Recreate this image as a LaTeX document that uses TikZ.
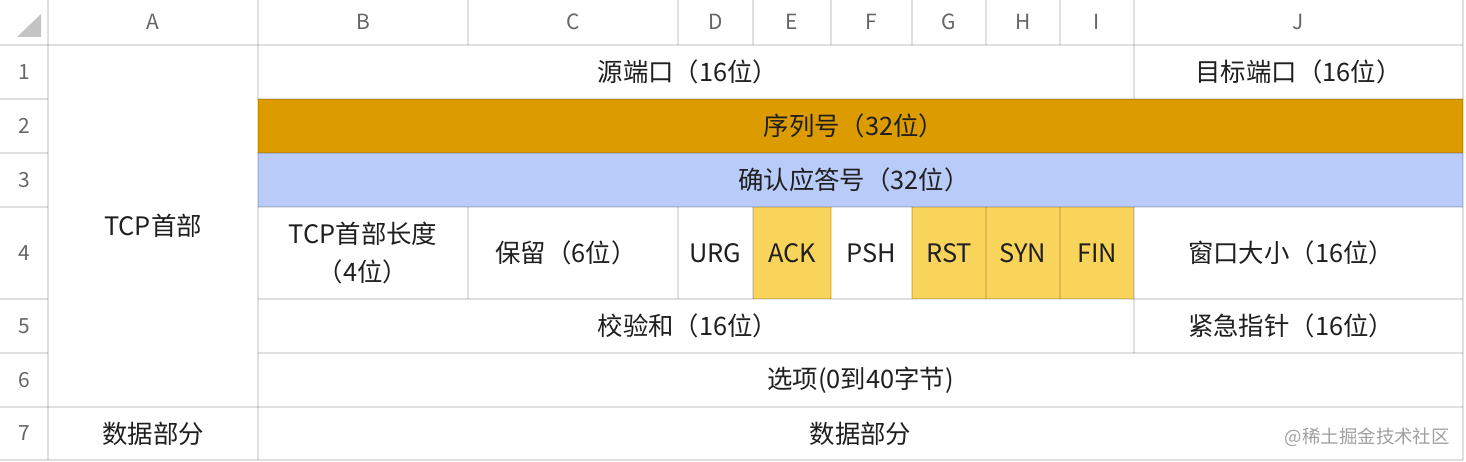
\documentclass[tikz,border=0pt]{standalone}
\usepackage{fontspec}
\setmainfont{Noto Sans CJK SC}
\definecolor{orangec}{HTML}{DC9C00}
\definecolor{bluec}{HTML}{B9CBF9}
\definecolor{yellowc}{HTML}{F9D45B}
\definecolor{textc}{HTML}{1F1F1F}
\definecolor{headc}{HTML}{666666}
\definecolor{cornerc}{HTML}{C4C4C4}
\definecolor{markc}{HTML}{A0A0A0}
\tikzset{
  gridline/.style={draw=black, draw opacity=0.12, line width=1.5bp},
  celltext/.style={text=textc, font=\fontsize{25.5}{38}\selectfont, inner sep=0pt, align=center},
  headtext/.style={text=headc, font=\fontsize{21}{24}\selectfont, inner sep=0pt},
}
\begin{document}
\begin{tikzpicture}[x=1bp,y=-1bp]
\useasboundingbox (0,0) rectangle (1466,462);
\fill[white] (0,0) rectangle (1466,462);
% fills
\fill[orangec] (258,99) rectangle (1463,153);
\fill[bluec] (258,153) rectangle (1463,207);
\fill[yellowc] (753,207) rectangle (831,299);
\fill[yellowc] (912,207) rectangle (1134,299);
% corner triangle
\fill[cornerc] (17,37) -- (41,37) -- (41,14) -- cycle;
% horizontal grid lines
\foreach \y in {45,407,460} \draw[gridline] (0,\y) -- (1463,\y);
\foreach \y in {99,153,207,299,353} {
  \draw[gridline] (0,\y) -- (48,\y);
  \draw[gridline] (258,\y) -- (1463,\y);
}
% vertical grid lines
\foreach \x in {48,258,1463} \draw[gridline] (\x,0) -- (\x,460);
\foreach \x in {468,678,753,831,912,986,1060,1134} {
  \draw[gridline] (\x,0) -- (\x,45);
  \draw[gridline] (\x,207) -- (\x,299);
}
\draw[gridline] (1134,45) -- (1134,99);
\draw[gridline] (1134,299) -- (1134,353);
% column headers
\node[headtext] (hA) at (153,22) {A};
\node[headtext] (hB) at (363,22) {B};
\node[headtext] (hC) at (573,22) {C};
\node[headtext] (hD) at (715.5,22) {D};
\node[headtext] (hE) at (792,22) {E};
\node[headtext] (hF) at (871.5,22) {F};
\node[headtext] (hG) at (949,22) {G};
\node[headtext] (hH) at (1023,22) {H};
\node[headtext] (hI) at (1097,22) {I};
\node[headtext] (hJ) at (1298.5,22) {J};
% row headers
\node[headtext] (r1) at (24,72) {1};
\node[headtext] (r2) at (24,126) {2};
\node[headtext] (r3) at (24,180) {3};
\node[headtext] (r4) at (24,253) {4};
\node[headtext] (r5) at (24,326) {5};
\node[headtext] (r6) at (24,380) {6};
\node[headtext] (r7) at (24,433.5) {7};
% cell texts
\node[celltext] (tcphead) at (153,226) {TCP首部};
\node[celltext] (data1) at (153,433.5) {数据部分};
\node[celltext] (src) at (688,72) {源端口（16位）};
\node[celltext] (dst) at (1298.5,72) {目标端口（16位）};
\node[celltext] (seq) at (854,126) {序列号（32位）};
\node[celltext] (ack) at (854,180) {确认应答号（32位）};
\node[celltext] (hlen) at (363,253) {TCP首部长度\\（4位）};
\node[celltext] (resv) at (566,253) {保留（6位）};
\node[celltext] (urg) at (715.5,253) {URG};
\node[celltext] (fack) at (792,253) {ACK};
\node[celltext] (psh) at (871.5,253) {PSH};
\node[celltext] (rst) at (949,253) {RST};
\node[celltext] (syn) at (1023,253) {SYN};
\node[celltext] (fin) at (1097,253) {FIN};
\node[celltext] (win) at (1291,253) {窗口大小（16位）};
\node[celltext] (chk) at (688,326) {校验和（16位）};
\node[celltext] (urgp) at (1291,326) {紧急指针（16位）};
\node[celltext] (opt) at (860.5,380) {选项(0到40字节)};
\node[celltext] (data2) at (860.5,433.5) {数据部分};
\node[text=markc, font=\fontsize{18.5}{22}\selectfont, inner sep=0pt, anchor=east] (mark) at (1450,437) {@稀土掘金技术社区};
\end{tikzpicture}
\end{document}
